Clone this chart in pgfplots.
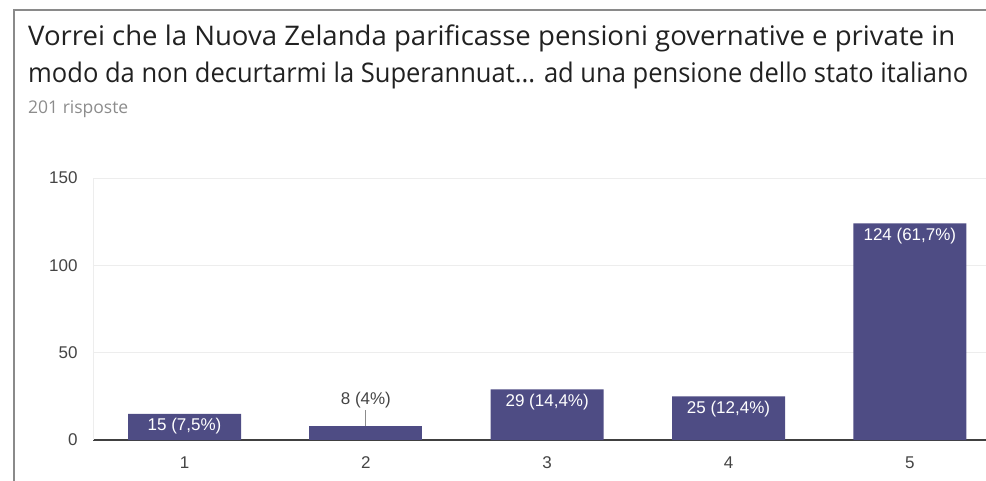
\documentclass[border=0pt]{standalone}
\usepackage{pgfplots}
\pgfplotsset{compat=1.18}
\usepackage{fontspec}
\setmainfont{Liberation Sans}
\newfontfamily\titlefont{Open Sans}
\definecolor{barc}{HTML}{4E4C84}
\definecolor{tickc}{HTML}{444444}
\definecolor{framec}{HTML}{8A8A8A}
\begin{document}
\begin{tikzpicture}[x=1pt,y=1pt]
\useasboundingbox[clip] (0,0) rectangle (986,480);
\draw[color=framec, line width=2pt] (14,-5) -- (14,470) -- (995,470);
\node[anchor=base west, inner sep=0pt, font=\titlefont\fontsize{27}{30}\selectfont, text=black!87] at (28,434) {\resizebox{927pt}{\height}{Vorrei che la Nuova Zelanda parificasse pensioni governative e private in}};
\node[anchor=base west, inner sep=0pt, font=\titlefont\fontsize{27}{30}\selectfont, text=black!87] at (28,397) {\resizebox{940pt}{\height}{modo da non decurtarmi la Superannuat... ad una pensione dello stato italiano}};
\node[anchor=base west, inner sep=0pt, font=\titlefont\fontsize{17.5}{19}\selectfont, text=black!45] at (28,366) {201 risposte};
\begin{axis}[
  at={(93pt,40pt)}, anchor=south west,
  width=893pt, height=262pt, scale only axis,
  xmin=0.495, xmax=5.42, ymin=0, ymax=150,
  ytick={0,50,100,150}, xtick={1,2,3,4,5},
  axis x line*=bottom, axis y line*=left,
  y axis line style={draw=black!7, line width=0.8pt},
  x axis line style={draw=black!75, line width=1.2pt},
  tick style={draw=none},
  ymajorgrids, grid style={draw=black!7, line width=0.8pt},
  /pgf/number format/assume math mode=true,
  ticklabel style={font=\fontsize{17}{17}\selectfont, text=tickc},
  yticklabel style={xshift=-12pt},
  xticklabel style={yshift=-9pt},
  ybar, bar width=113pt, bar shift=0pt,
  clip=false,
]
\addplot[fill=barc, draw=none,
  point meta=explicit symbolic,
  nodes near coords,
  every node near coord/.append style={anchor=north, yshift=-1pt, text=white, font=\fontsize{17}{17}\selectfont},
] coordinates {(1,15) [15 (7,5\%)] (3,29) [29 (14,4\%)] (4,25) [25 (12,4\%)] (5,124) [124 (61,7\%)]};
\addplot[fill=barc, draw=none,
  point meta=explicit symbolic,
  nodes near coords,
  every node near coord/.append style={anchor=south, yshift=14pt, text=tickc, font=\fontsize{17}{17}\selectfont},
] coordinates {(2,8) [8 (4\%)]};
\draw[black!45, line width=0.8pt] (axis cs:2,8) -- (axis cs:2,17);
\end{axis}
\end{tikzpicture}
\end{document}
